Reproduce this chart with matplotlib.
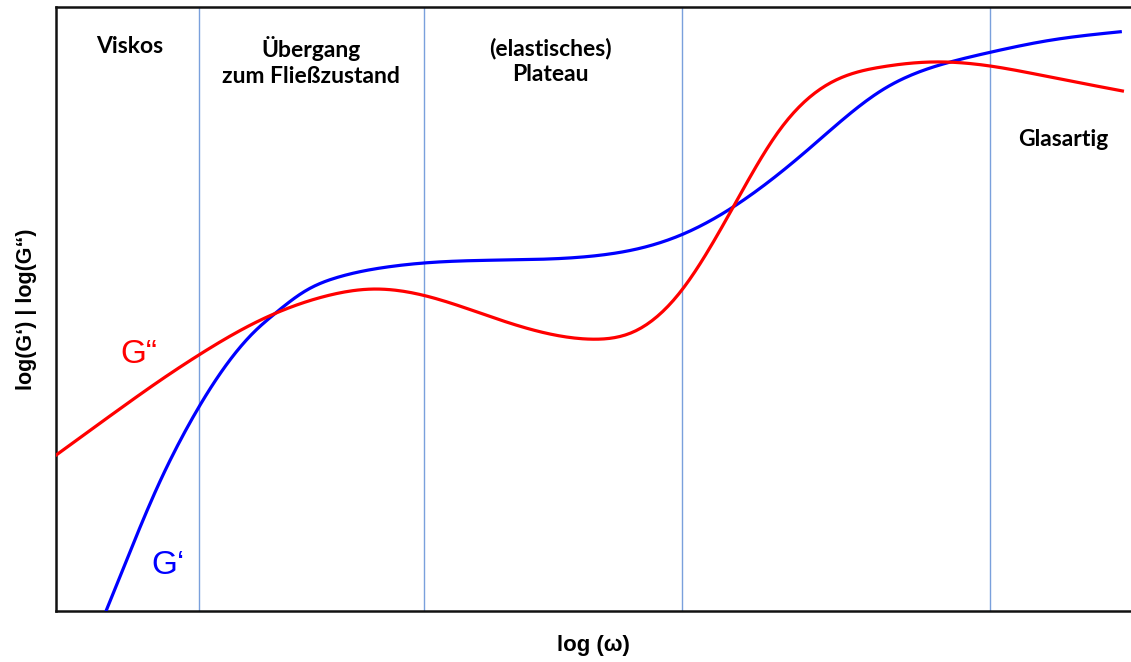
import numpy as np
import matplotlib
matplotlib.use("Agg")
import matplotlib.pyplot as plt

g1_x = [0.47, 0.62, 0.93, 1.24, 1.55, 1.86, 2.02, 2.33, 2.63, 3.10, 3.41,
        4.13, 5.06, 5.37, 5.82, 6.30, 6.99, 7.69, 8.32, 8.69, 9.25, 9.90]
g1_y = [0.02, 0.68, 2.00, 3.10, 3.99, 4.65, 4.90, 5.31, 5.53, 5.70, 5.76,
        5.81, 5.89, 5.98, 6.23, 6.69, 7.63, 8.63, 9.09, 9.25, 9.45, 9.59]

g2_x = [0.00, 0.62, 0.93, 1.33, 1.86, 2.48, 2.95, 3.41, 4.13, 4.70, 5.00, 5.37,
        5.82, 6.30, 6.73, 7.20, 7.69, 8.16, 8.62, 9.25, 9.92]
g2_y = [2.58, 3.38, 3.77, 4.24, 4.78, 5.20, 5.33, 5.23, 4.82, 4.55, 4.50, 4.62,
        5.31, 6.69, 7.96, 8.74, 9.01, 9.09, 9.04, 8.84, 8.61]

grenzen = [1.33, 3.42, 5.82, 8.69]
bereiche = ["Viskos", "Übergang\nzum Fließzustand", "(elastisches)\nPlateau", "Glasartig"]
bereich_x = [0.69, 2.37, 4.60, 9.37]
bereich_y = [9.35, 9.10, 9.10, 7.81]


def glatt(x, y, n=400):
    # natuerlicher kubischer Spline, nur fuer die Darstellung
    x = np.asarray(x, float)
    y = np.asarray(y, float)
    h = np.diff(x)
    m = len(x)
    A = np.zeros((m, m))
    b = np.zeros(m)
    A[0, 0] = A[-1, -1] = 1
    for i in range(1, m - 1):
        A[i, i - 1] = h[i - 1]
        A[i, i] = 2 * (h[i - 1] + h[i])
        A[i, i + 1] = h[i]
        b[i] = 6 * ((y[i + 1] - y[i]) / h[i] - (y[i] - y[i - 1]) / h[i - 1])
    M = np.linalg.solve(A, b)
    xs = np.linspace(x[0], x[-1], n)
    k = np.clip(np.searchsorted(x, xs) - 1, 0, m - 2)
    t0 = xs - x[k]
    t1 = x[k + 1] - xs
    hk = h[k]
    ys = (M[k] * t1**3 / (6 * hk) + M[k + 1] * t0**3 / (6 * hk)
          + (y[k] / hk - M[k] * hk / 6) * t1 + (y[k + 1] / hk - M[k + 1] * hk / 6) * t0)
    return xs, ys


fig = plt.figure(figsize=(11.31, 6.62), dpi=100)
ax = fig.add_axes([56 / 1131, 51 / 662, 1075 / 1131, 604 / 662])
ax.set_xlim(0, 10)
ax.set_ylim(0, 10)

for g in grenzen:
    ax.axvline(g, color="#7aa0dc", lw=1.0, zorder=1)

x, y = glatt(g1_x, g1_y)
ax.plot(x, y, color="#0000ff", lw=2.3, zorder=3)
x, y = glatt(g2_x, g2_y)
ax.plot(x, y, color="#ff0000", lw=2.3, zorder=3)

for t, bx, by in zip(bereiche, bereich_x, bereich_y):
    ax.text(bx, by, t, ha="center", va="center", fontsize=16.5, fontweight="bold",
            family="Lato", linespacing=1.3)

ax.text(0.77, 4.25, "G“", color="#ff0000", fontsize=24, ha="center", va="center",
        family="Liberation Sans")
ax.text(1.04, 0.76, "G‘", color="#0000ff", fontsize=24, ha="center", va="center",
        family="Liberation Sans")

ax.set_xlabel("log (ω)", fontsize=16, fontweight="bold", family="Liberation Sans", labelpad=17)
ax.set_ylabel("log(G‘) | log(G“)", fontsize=15.5, fontweight="bold", family="Liberation Sans",
              labelpad=14)
ax.set_xticks([])
ax.set_yticks([])
ax.spines["right"].set_visible(False)
for s in ("left", "top", "bottom"):
    ax.spines[s].set_linewidth(1.8)
    ax.spines[s].set_color("#111111")

fig.savefig("out.png", dpi=100)
